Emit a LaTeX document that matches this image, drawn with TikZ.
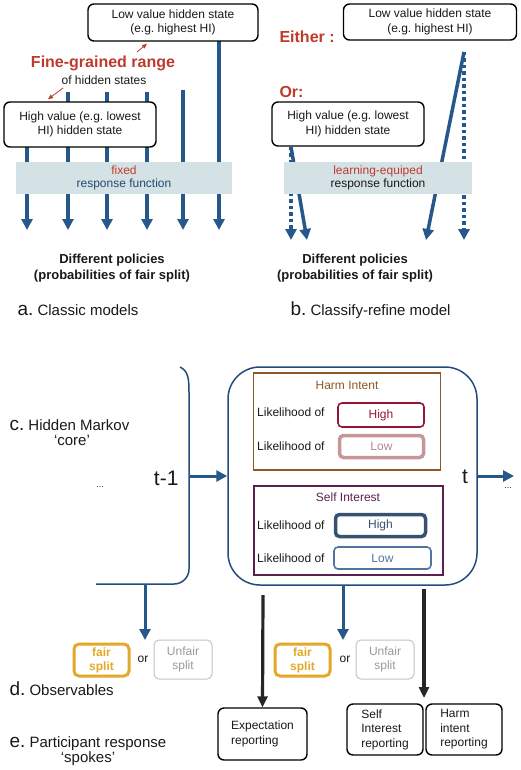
\documentclass[tikz,border=0pt]{standalone}
\usepackage{fontspec}
\setmainfont{Liberation Sans}
\usetikzlibrary{arrows.meta,backgrounds}

\definecolor{arrblue}{RGB}{38,88,140}
\definecolor{bandcol}{RGB}{213,226,229}
\definecolor{txtred}{RGB}{190,58,45}
\definecolor{harmcol}{RGB}{140,88,40}
\definecolor{highred}{RGB}{150,22,50}
\definecolor{lowpink}{RGB}{200,150,152}
\definecolor{selfcol}{RGB}{92,32,78}
\definecolor{highblue}{RGB}{55,82,112}
\definecolor{lowblue}{RGB}{80,115,160}
\definecolor{fairgold}{RGB}{228,168,40}
\definecolor{unfairgray}{RGB}{195,195,195}
\definecolor{coreblue}{RGB}{35,75,125}

\newcommand{\fsz}[2]{\fontsize{#1}{#2}\selectfont}
\frenchspacing

\tikzset{
  statebox/.style={draw, fill=white, rounded corners=6pt, line width=1.4pt, align=center, font=\fsz{12}{14.5}, inner sep=2pt},
  respband/.style={fill=bandcol, align=center, font=\fsz{12}{13.5}},
  polarrow/.style={arrblue, line width=3.5pt, -{Triangle[width=11pt,length=11pt]}},
  dotarrow/.style={polarrow, dash pattern=on 3.5pt off 3pt},
  redtip/.style={txtred, line width=0.8pt, -{Triangle[width=4pt,length=5pt]}},
  likebox/.style={draw, rounded corners=4pt, inner sep=1pt, font=\fsz{12}{14}},
  obsbox/.style={draw, rounded corners=5pt, align=center, inner sep=1pt, font=\fsz{12}{14}},
  repbox/.style={draw, rounded corners=6pt, line width=1.4pt, align=left, inner sep=2pt, font=\fsz{12}{14.5}},
  spoke/.style={black!85, line width=3.2pt, -{Triangle[width=10pt,length=11pt]}},
  panlab/.style={anchor=base west, font=\fsz{15}{16}},
  bigred/.style={font=\bfseries\fsz{16}{18}, text=txtred},
  policy/.style={font=\bfseries\fsz{13}{15.5}, align=center},
}

\begin{document}
\begin{tikzpicture}[x=1pt,y=-1pt,text=black!90]
  \useasboundingbox (0,0) rectangle (520,770);

  % a. classic models
  \node[statebox, minimum width=170pt, minimum height=37pt] (lowA) at (173,22.5) {Low value hidden state\\(e.g. highest HI)};
  \node[statebox, minimum width=152pt, minimum height=45pt] (highA) at (80,124.5) {High value (e.g. lowest\\HI) hidden state};
  \node[respband, minimum width=216pt, minimum height=32pt] (bandA) at (124,178) {\textcolor{txtred}{fixed}\\\textcolor{arrblue!85!black}{response function}};
  \node[bigred] (fine) at (103,63) {Fine-grained range};
  \node[font=\fsz{12}{14}] (ofhid) at (104,80) {of hidden states};
  \draw[redtip] ([xshift=34pt]fine.north) -- ([xshift=-26pt,yshift=-2pt]lowA.south);
  \draw[redtip] ([xshift=5pt]ofhid.south west) -- ([xshift=-32pt,yshift=2pt]highA.north);
  \node[policy] (polA) at (112,268) {Different policies\\(probabilities of fair split)};
  \node[panlab] (labA) at (14,315) {{\fsz{19}{20}a.} Classic models};

  % b. classify-refine model
  \node[statebox, minimum width=173pt, minimum height=36pt] (lowB) at (430,22) {Low value hidden state\\(e.g. highest HI)};
  \node[statebox, minimum width=152pt, minimum height=44pt] (highB) at (348,124) {High value (e.g. lowest\\HI) hidden state};
  \node[respband, minimum width=188pt, minimum height=32pt] (bandB) at (378,178) {\textcolor{txtred}{learning-equiped}\\response function};
  \node[bigred, anchor=west] (either) at (276,37) {Either :};
  \node[bigred, anchor=west] (orB) at (276,92) {Or:};
  \node[policy] (polB) at (355,268) {Different policies\\(probabilities of fair split)};
  \node[panlab] (labB) at (287,315) {{\fsz{19}{20}b.} Classify-refine model};

  \begin{pgfonlayer}{background}
    \foreach \i/\x/\y in {1/27/147, 2/68/92, 3/107/92, 4/147/92, 5/183/90, 6/219/41} {
      \coordinate (topA\i) at (\x,\y);
      \coordinate (tipA\i) at (\x,230);
      \draw[polarrow] (topA\i) -- (tipA\i);
    }
    \coordinate (topB1) at (291,147);
    \coordinate (topB2) at (464,52);
    \coordinate (tipB1) at (307,240);
    \coordinate (tipB2) at (426,240);
    \draw[dotarrow] (topB1) -- (topB1 |- tipB1);
    \draw[polarrow] (topB1) -- (tipB1);
    \draw[dotarrow] (topB2) -- (topB2 |- tipB2);
    \draw[polarrow] (topB2) -- (tipB2);
  \end{pgfonlayer}

  % c. hidden markov core
  \node[panlab] (labC) at (6,430) {{\fsz{19}{20}c.} Hidden Markov};
  \node[anchor=base, font=\fsz{15}{16}] (coreq) at (72,445) {`core'};
  \draw[coreblue, line width=1.5pt] (180,367) .. controls (188,371) and (189,378) .. (189,392)
    [rounded corners=15pt] -- (189,584) -- (96,584);
  \coordinate (brk) at (189,476);
  \coordinate (brkbot) at (145,584);
  \node[draw=coreblue, line width=1.5pt, rounded corners=32pt, minimum width=249pt, minimum height=218pt] (core) at (352.5,476) {};
  \node[font=\fsz{21}{24}, anchor=east] (tm1) at (182,478) {t-1};
  \node[font=\fsz{21}{24}] (tnow) at (465,477) {t};
  \node[font=\fsz{9}{10}] (dotsL) at (100,487) {...};
  \node[font=\fsz{9}{10}] (dotsR) at (508,488) {...};
  \coordinate (nextt) at (514,476);
  \draw[polarrow, line width=3pt] (brk) -- (core.west);
  \draw[polarrow, line width=3pt] (core.east) -- (nextt);

  \node[draw=harmcol, line width=1.5pt, minimum width=187pt, minimum height=97pt] (harm) at (347,421.5) {};
  \node[text=harmcol, font=\fsz{12}{14}] (harmt) at (347,385) {Harm Intent};
  \node[anchor=west, font=\fsz{12}{14}, inner sep=1pt] (lkH1) at (256,412) {Likelihood of};
  \node[anchor=west, font=\fsz{12}{14}, inner sep=1pt] (lkH2) at (256,446) {Likelihood of};
  \node[likebox, draw=highred, text=highred, line width=1.6pt, minimum width=86pt, minimum height=24pt] (hiH) at (381,415) {High};
  \node[likebox, draw=lowpink, text=lowpink!90!black, line width=3.5pt, minimum width=84pt, minimum height=22pt] (loH) at (381.5,446.5) {Low};

  \node[draw=selfcol, line width=1.5pt, minimum width=189pt, minimum height=89pt] (self) at (348.5,530.5) {};
  \node[text=selfcol, font=\fsz{12}{14}] (selft) at (348,497) {Self Interest};
  \node[anchor=west, font=\fsz{12}{14}, inner sep=1pt] (lkS1) at (256,525) {Likelihood of};
  \node[anchor=west, font=\fsz{12}{14}, inner sep=1pt] (lkS2) at (256,558) {Likelihood of};
  \node[likebox, draw=highblue, text=highblue, line width=3.5pt, minimum width=90pt, minimum height=22pt] (hiS) at (380.5,525.5) {High};
  \node[likebox, draw=lowblue, text=lowblue, line width=1.6pt, minimum width=97pt, minimum height=22pt] (loS) at (382.5,558) {Low};

  % d. observables
  \node[panlab] (labD) at (6,695) {{\fsz{19}{20}d.} Observables};
  \node[obsbox, draw=fairgold, text=fairgold, line width=3pt, font=\bfseries\fsz{12}{14}, minimum width=55pt, minimum height=32pt] (fairL) at (101.5,660) {fair\\split};
  \node[font=\fsz{12}{14}] (orL) at (143,659) {or};
  \node[obsbox, draw=unfairgray, text=black!40, line width=1pt, minimum width=58pt, minimum height=39pt] (unfL) at (183,659.5) {Unfair\\split};
  \node[obsbox, draw=fairgold, text=fairgold, line width=3pt, font=\bfseries\fsz{12}{14}, minimum width=55pt, minimum height=32pt] (fairR) at (302.5,660) {fair\\split};
  \node[font=\fsz{12}{14}] (orR) at (345,659) {or};
  \node[obsbox, draw=unfairgray, text=black!40, line width=1pt, minimum width=58pt, minimum height=39pt] (unfR) at (385,659.5) {Unfair\\split};
  \coordinate (obsL) at (145,640);
  \coordinate (coreout) at (343,585);
  \coordinate (obsR) at (343,640);
  \draw[polarrow, line width=3pt] (brkbot) -- (obsL);
  \draw[polarrow, line width=3pt] (coreout) -- (obsR);

  % e. participant response spokes
  \node[panlab] (labE) at (6,747) {{\fsz{19}{20}e.} Participant response};
  \node[anchor=base, font=\fsz{15}{16}] (spokq) at (88,762) {`spokes'};
  \node[repbox, minimum width=89pt, minimum height=52pt] (expr) at (262.5,734) {Expectation\\reporting};
  \node[repbox, minimum width=76pt, minimum height=51pt] (selfr) at (385,729.5) {Self\\Interest\\reporting};
  \node[repbox, minimum width=76pt, minimum height=51pt] (harmr) at (464,729.5) {Harm\\intent\\reporting};
  \coordinate (spk1) at (263,595);
  \coordinate (spk2) at (424,589);
  \coordinate (spk2end) at (424,698);
  \draw[spoke] (spk1) -- (expr.north);
  \draw[spoke] (spk2) -- (spk2end);
\end{tikzpicture}
\end{document}
